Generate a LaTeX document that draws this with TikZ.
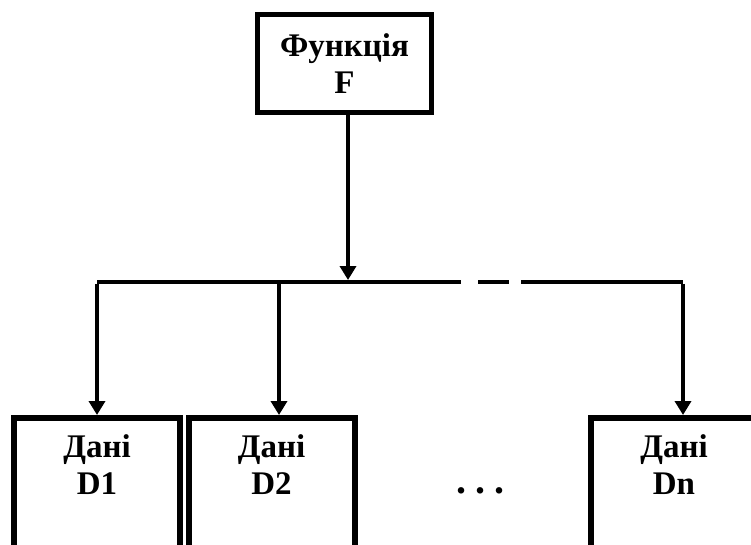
\documentclass[tikz,border=0pt]{standalone}
\usepackage{fontspec}
\setmainfont{Liberation Serif}
\usetikzlibrary{arrows.meta}
\begin{document}
\begin{tikzpicture}[x=1pt,y=-1pt,
  lbl/.style={font=\fontsize{33}{37}\selectfont\bfseries, align=center, inner sep=0pt},
  topbox/.style={draw, line width=5pt, minimum width=174pt, minimum height=98pt, inner sep=0pt, lbl},
  databox/.style={draw, line width=6pt, minimum width=166pt, minimum height=220pt, anchor=north, inner sep=0pt},
  conn/.style={line width=3.6pt},
  arr/.style={conn, -{Triangle[length=14pt,width=16pt]}}
]
\useasboundingbox (0,0) rectangle (751,544);
\fill[white] (0,0) rectangle (751,544);
\clip (0,0) rectangle (751,544);

% top box
\node[topbox] (f) at (344.5,63.5) {Функція\\F};

% data boxes
\node[databox] (d1) at (97,415) {};
\node[databox] (d2) at (271.5,415) {};
\node[databox] (dn) at (674,415) {};
\node[lbl] (t1) at (97,464.5) {Дані\\D1};
\node[lbl] (t2) at (271.5,464.5) {Дані\\D2};
\node[lbl] (tn) at (674,464.5) {Дані\\Dn};
\node[lbl, font=\fontsize{40}{40}\selectfont\bfseries] (dots) at (480,491) {.\hspace{9pt}.\hspace{9pt}.};

% junction coordinates
\coordinate (j) at (348,280);
\coordinate (c1) at (97,282);
\coordinate (c2) at (279,282);
\coordinate (cn) at (683,282);
\coordinate (g1) at (461,282);
\coordinate (g2) at (478,282);
\coordinate (g3) at (509,282);
\coordinate (g4) at (521,282);

% connectors
\draw[arr] (f.south -| j) -- (j);
\draw[conn] (c1) -- (g1);
\draw[conn] (g2) -- (g3);
\draw[conn] (g4) -- (cn);
\draw[arr] ([yshift=-1.8pt]c1) -- (c1 |- d1.north);
\draw[arr] (c2) -- (c2 |- d2.north);
\draw[arr] ([yshift=-1.8pt]cn) -- (cn |- dn.north);
\end{tikzpicture}
\end{document}
